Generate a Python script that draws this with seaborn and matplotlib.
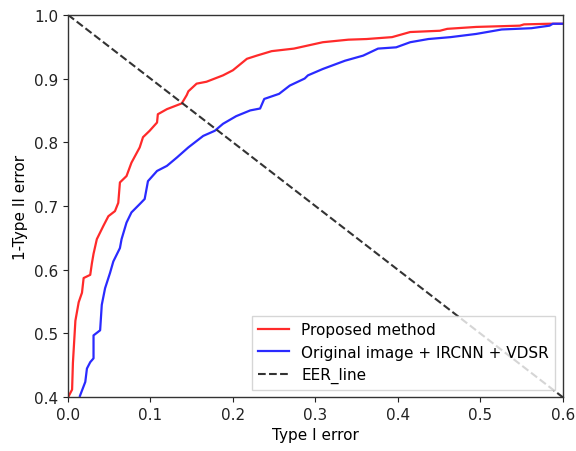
import matplotlib
matplotlib.use("Agg")
import matplotlib.pyplot as plt
import seaborn as sns
import pandas as pd

proposed_x = [0.001, 0.005, 0.006, 0.009, 0.013, 0.017, 0.019, 0.027, 0.029, 0.031, 0.035, 0.043,
              0.049, 0.057, 0.061, 0.063, 0.071, 0.077, 0.087, 0.091, 0.099, 0.108, 0.109, 0.120,
              0.138, 0.144, 0.146, 0.156, 0.168, 0.188, 0.200, 0.217, 0.229, 0.247, 0.274, 0.309,
              0.340, 0.362, 0.393, 0.415, 0.451, 0.460, 0.495, 0.548, 0.553, 0.584, 0.6]
proposed_y = [0.402, 0.412, 0.454, 0.520, 0.549, 0.564, 0.587, 0.592, 0.610, 0.625, 0.648, 0.669,
              0.684, 0.692, 0.705, 0.737, 0.747, 0.768, 0.792, 0.808, 0.818, 0.831, 0.844, 0.852,
              0.861, 0.874, 0.880, 0.892, 0.895, 0.905, 0.913, 0.931, 0.936, 0.943, 0.947, 0.957,
              0.961, 0.962, 0.965, 0.973, 0.975, 0.978, 0.981, 0.983, 0.985, 0.986, 0.986]

original_x = [0.0145, 0.021, 0.023, 0.027, 0.031, 0.031, 0.039, 0.041, 0.045, 0.051, 0.055, 0.063,
              0.065, 0.071, 0.077, 0.087, 0.093, 0.097, 0.108, 0.120, 0.132, 0.146, 0.156, 0.164,
              0.178, 0.188, 0.204, 0.221, 0.233, 0.238, 0.256, 0.269, 0.287, 0.291, 0.309, 0.336,
              0.358, 0.376, 0.398, 0.415, 0.437, 0.464, 0.495, 0.526, 0.562, 0.584, 0.588, 0.6]
original_y = [0.402, 0.424, 0.445, 0.455, 0.461, 0.497, 0.505, 0.545, 0.571, 0.595, 0.613, 0.634,
              0.648, 0.674, 0.690, 0.703, 0.711, 0.739, 0.755, 0.763, 0.776, 0.792, 0.802, 0.810,
              0.818, 0.829, 0.841, 0.850, 0.853, 0.868, 0.876, 0.889, 0.900, 0.905, 0.915, 0.928,
              0.936, 0.947, 0.949, 0.957, 0.962, 0.965, 0.970, 0.977, 0.979, 0.983, 0.986, 0.986]

eer_x = [0.0, 0.6]
eer_y = [1.0, 0.4]

labels = ["Proposed method", "Original image + IRCNN + VDSR", "EER_line"]
x_label = "Type I error"
y_label = "1-Type II error"
x_ticks = [0.0, 0.1, 0.2, 0.3, 0.4, 0.5, 0.6]
y_ticks = [0.4, 0.5, 0.6, 0.7, 0.8, 0.9, 1.0]

plt.rcParams["font.family"] = ["DejaVu Sans"]
plt.rcParams["font.size"] = 11

fig = plt.figure(figsize=(5.76, 4.52), dpi=100)
ax = fig.add_axes([0.118, 0.119, 0.859, 0.846])

df_p = pd.DataFrame({"x": proposed_x, "y": proposed_y})
df_o = pd.DataFrame({"x": original_x, "y": original_y})
df_e = pd.DataFrame({"x": eer_x, "y": eer_y})

sns.lineplot(data=df_p, x="x", y="y", ax=ax, color="#ff2a2a", linewidth=1.6,
             sort=False, estimator=None, label=labels[0])
sns.lineplot(data=df_o, x="x", y="y", ax=ax, color="#2a2aff", linewidth=1.6,
             sort=False, estimator=None, label=labels[1])
sns.lineplot(data=df_e, x="x", y="y", ax=ax, color="#333333", linewidth=1.5,
             linestyle="--", sort=False, estimator=None, label=labels[2])

ax.set_xlim(0.0, 0.6)
ax.set_ylim(0.4, 1.0)
ax.set_xticks(x_ticks)
ax.set_yticks(y_ticks)
ax.set_xlabel(x_label, fontsize=11)
ax.set_ylabel(y_label, fontsize=11)
ax.tick_params(labelsize=11, colors="#222222")
for s in ax.spines.values():
    s.set_color("#333333")
    s.set_linewidth(1.0)
ax.legend(loc="lower right", fontsize=11, frameon=True, fancybox=False, edgecolor="#cccccc")

fig.savefig("out.png", dpi=100)
